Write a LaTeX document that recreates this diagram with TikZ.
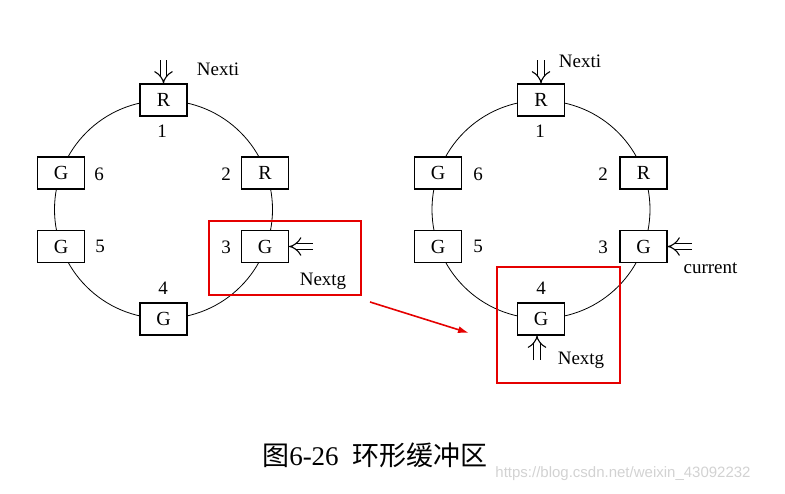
\documentclass[tikz,border=0pt]{standalone}
\usepackage{fontspec}
\setmainfont{Liberation Serif}
\setsansfont{Liberation Sans}
\newfontfamily\cjk{Noto Sans CJK SC}
\usetikzlibrary{arrows.meta}

\begin{document}
\begin{tikzpicture}[x=1pt,y=-1pt,
    slot/.style={draw, line width=1.1pt, fill=white, minimum width=47pt,
      minimum height=32pt, inner sep=0pt, font=\fontsize{20}{20}\selectfont},
    num/.style={font=\fontsize{19}{19}\selectfont},
    ptr/.style={double, double distance=5.5pt, line width=1.1pt, -{Implies}},
    hilite/.style={draw=red!90!black, line width=1.5pt}]
    \useasboundingbox (0,0) rectangle (785,493);
    % left ring
    \draw[line width=0.8pt] (163.5,209.5) circle (109);
    \node[slot] (l1) at (163.5,100) {R};
    \node[slot] (l2) at (265,173) {R};
    \node[slot] (l3) at (265,246.5) {G};
    \node[slot] (l4) at (163.5,319) {G};
    \node[slot] (l5) at (61,246.5) {G};
    \node[slot] (l6) at (61,173) {G};
    \node[num] (ln1) at (162,131) {1};
    \node[num] (ln2) at (226,174) {2};
    \node[num] (ln3) at (226,247) {3};
    \node[num] (ln4) at (163,288) {4};
    \node[num] (ln5) at (100,246) {5};
    \node[num] (ln6) at (99,174) {6};
    \coordinate (liTail) at (163.5,60);
    \coordinate (lgTail) at (313,246.5);
    \draw[ptr] (liTail) -- (l1.north);
    \draw[ptr] (lgTail) -- (l3.east);
    \node[num] (lNexti) at (218,69) {Nexti};
    \node[num, anchor=base] (lNextg) at (323,285) {Nextg};
    \node[hilite, minimum width=152pt, minimum height=74pt] (lFrame) at (285,258) {};
    % right ring
    \draw[line width=0.8pt] (541,209.5) circle (109);
    \node[slot] (r1) at (541,100) {R};
    \node[slot] (r2) at (643.5,173) {R};
    \node[slot] (r3) at (643.5,246.5) {G};
    \node[slot] (r4) at (541,319) {G};
    \node[slot] (r5) at (438,246.5) {G};
    \node[slot] (r6) at (438,173) {G};
    \node[num] (rn1) at (540,131) {1};
    \node[num] (rn2) at (603,174) {2};
    \node[num] (rn3) at (603,247) {3};
    \node[num] (rn4) at (541,288) {4};
    \node[num] (rn5) at (478,246) {5};
    \node[num] (rn6) at (478,174) {6};
    \coordinate (riTail) at (541,60);
    \coordinate (rcTail) at (692,246.5);
    \coordinate (rgTail) at (537,360);
    \draw[ptr] (riTail) -- (r1.north);
    \draw[ptr] (rcTail) -- (r3.east);
    \draw[ptr] (rgTail) -- (rgTail |- r4.south);
    \node[num] (rNexti) at (580,61) {Nexti};
    \node[num, anchor=base] (rCurrent) at (710.5,273) {current};
    \node[num, anchor=base] (rNextg) at (581,364) {Nextg};
    \node[hilite, minimum width=123pt, minimum height=116pt] (rFrame) at (558.5,325) {};
    % move of Nextg
    \coordinate (moveFrom) at (370,302);
    \coordinate (moveTo) at (469,333);
    \draw[red!90!black, line width=1.6pt, -{Latex[length=11pt,width=7pt]}] (moveFrom) -- (moveTo);
    % caption
    \node[font=\fontsize{27}{27}\selectfont] (caption) at (375,455)
      {{\cjk 图}6-26\hspace{14pt}{\cjk 环形缓冲区}};
    \node[font=\sffamily\fontsize{15}{15}\selectfont, text=gray!35] (source) at (623,474)
      {https://blog.csdn.net/weixin\_43092232};
\end{tikzpicture}
\end{document}
